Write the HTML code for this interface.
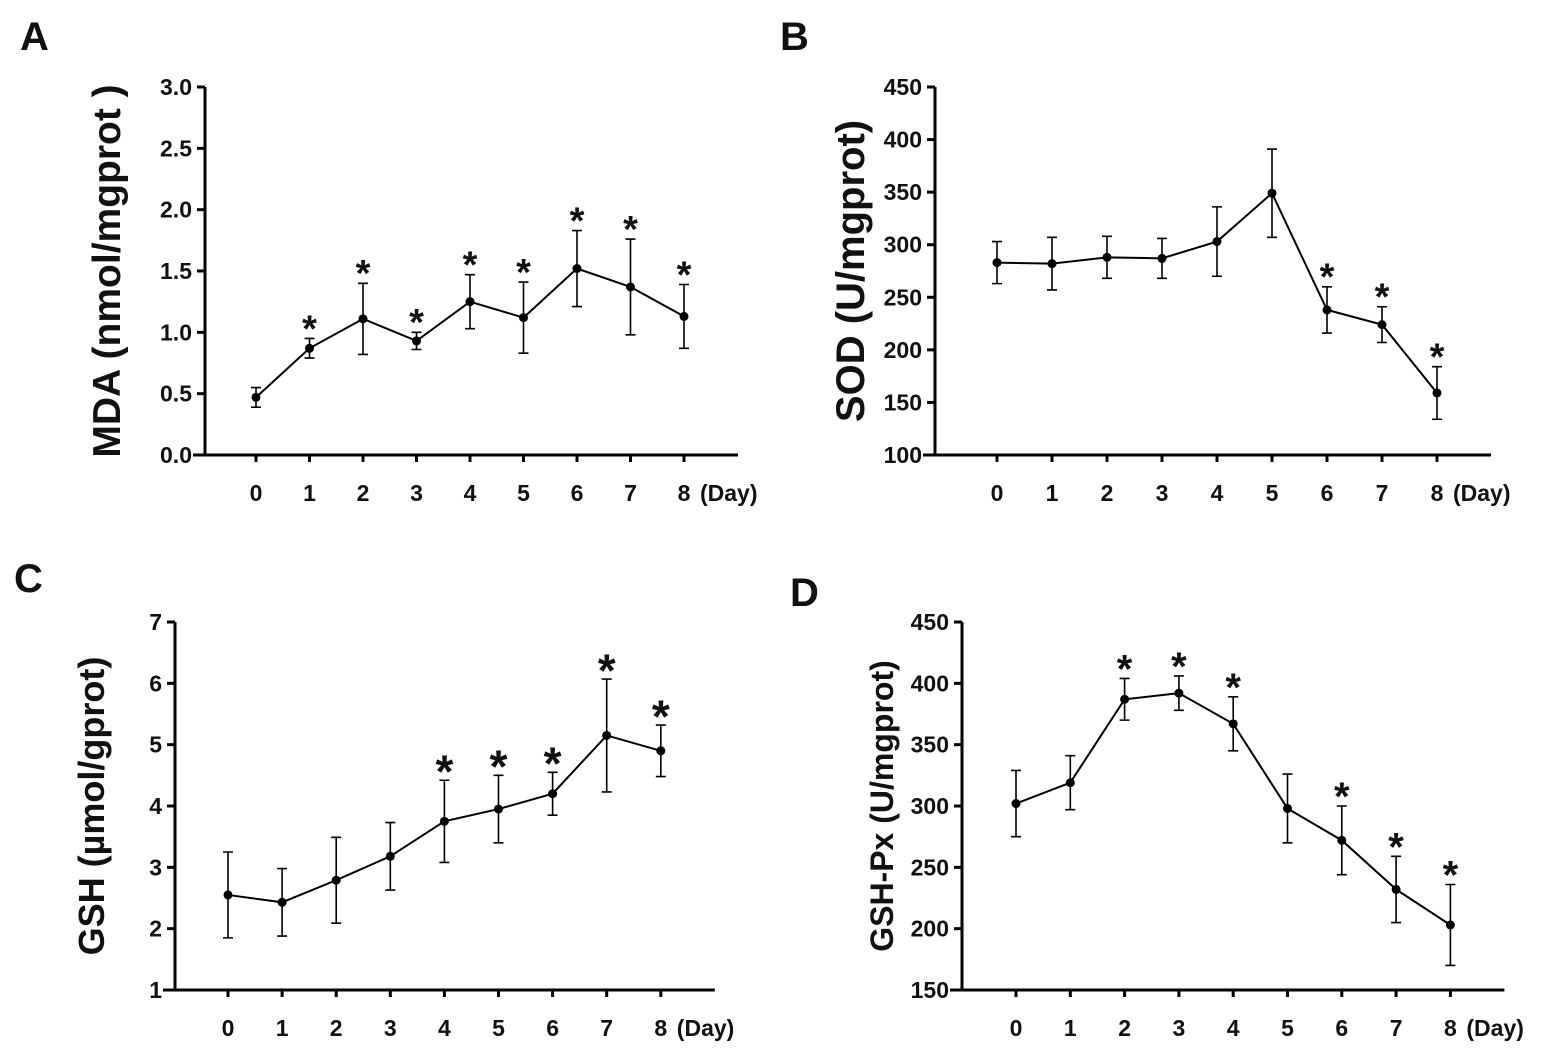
<!DOCTYPE html>
<html><head><meta charset="utf-8"><style>
body{margin:0;background:#fff;}
svg text{font-family:"Liberation Sans",Arial,sans-serif;font-weight:bold;fill:#111;}
</style></head><body>
<svg id="fig" width="1543" height="1054" viewBox="0 0 1543 1054" xmlns="http://www.w3.org/2000/svg"></svg>
<script>
const days=[0,1,2,3,4,5,6,7,8];
const mdaVals=[0.47,0.87,1.11,0.93,1.25,1.12,1.52,1.37,1.13];
const mdaErr=[0.08,0.08,0.29,0.07,0.22,0.29,0.31,0.39,0.26];
const mdaStars=[0,1,1,1,1,1,1,1,1];
const mdaTicks=["0.0","0.5","1.0","1.5","2.0","2.5","3.0"];
const sodVals=[283,282,288,287,303,349,238,224,159];
const sodErr=[20,25,20,19,33,42,22,17,25];
const sodStars=[0,0,0,0,0,0,1,1,1];
const sodTicks=["100","150","200","250","300","350","400","450"];
const gshVals=[2.55,2.43,2.79,3.18,3.75,3.95,4.2,5.15,4.9];
const gshErr=[0.7,0.55,0.7,0.55,0.67,0.55,0.35,0.92,0.42];
const gshStars=[0,0,0,0,1,1,1,1,1];
const gshTicks=["1","2","3","4","5","6","7"];
const gpxVals=[302,319,387,392,367,298,272,232,203];
const gpxErr=[27,22,17,14,22,28,28,27,33];
const gpxStars=[0,0,1,1,1,0,1,1,1];
const gpxTicks=["150","200","250","300","350","400","450"];

const svg=document.getElementById('fig');
const NS='http://www.w3.org/2000/svg';
function mk(tag,attrs,parent){const e=document.createElementNS(NS,tag);for(const k in attrs)e.setAttribute(k,attrs[k]);(parent||svg).appendChild(e);return e;}

function panel(o){
  const g=mk('g',{});
  
  
  const ymin=parseFloat(o.ticks[0]),ymax=parseFloat(o.ticks[o.ticks.length-1]);
  const yS=v=>o.bottom-(v-ymin)/(ymax-ymin)*(o.bottom-o.top);
  const xS=i=>o.x0+i*o.dx;
  const axEnd=xS(days.length-1)+54;
  const ya=mk('line',{x1:o.ax,y1:o.top,x2:o.ax,y2:o.bottom,stroke:'#000','stroke-width':3},g);
  
  const xa=mk('line',{x1:o.ax-12,y1:o.bottom,x2:axEnd,y2:o.bottom,stroke:'#000','stroke-width':3},g);
  
  o.ticks.forEach(t=>{const y=yS(parseFloat(t));
    mk('line',{x1:o.ax-8,y1:y,x2:o.ax,y2:y,stroke:'#000','stroke-width':3},g);
    const tx=mk('text',{x:o.ax-13,y:y+8,'text-anchor':'end','font-size':23},g);tx.textContent=t;
    });
  days.forEach((d,i)=>{const x=xS(i);
    mk('line',{x1:x,y1:o.bottom,x2:x,y2:o.bottom+7,stroke:'#000','stroke-width':3},g);
    const tx=mk('text',{x:x,y:o.bottom+46,'text-anchor':'middle','font-size':23},g);tx.textContent=d;
    });
  const dl=mk('text',{x:xS(8)+16,y:o.bottom+46,'font-size':23},g);dl.textContent='(Day)';
  
  const pts=o.vals.map((v,i)=>xS(i)+','+yS(v)).join(' ');
  const pl=mk('polyline',{points:pts,fill:'none',stroke:'#000','stroke-width':2},g);
  
  o.vals.forEach((v,i)=>{const x=xS(i);const y1=yS(v+o.err[i]),y2=yS(v-o.err[i]);
    const eb=mk('path',{d:`M${x},${y1}V${y2}M${x-5},${y1}H${x+5}M${x-5},${y2}H${x+5}`,stroke:'#000','stroke-width':1.6,fill:'none'},g);
    
    const c=mk('circle',{cx:x,cy:yS(v),r:4.5,fill:'#000'},g);
    
    if(o.stars[i]){const s=mk('text',{x:x,y:y1-18+o.starSize*0.55,'text-anchor':'middle','font-size':o.starSize},g);s.textContent='*';
      }
  });
  const cy=(o.top+o.bottom)/2;
  const t=mk('text',{x:o.tx,y:cy,'text-anchor':'middle','font-size':o.tsize,transform:`rotate(-90 ${o.tx} ${cy})`},g);
  t.textContent=o.title;
  const L=mk('text',{x:o.lx,y:o.ly,'font-size':40},g);L.textContent=o.letter;
  
}
panel({name:'panel-a-mda',letter:'A',lx:20,ly:50,ax:205,top:87,bottom:455,x0:256,dx:53.5,ticks:mdaTicks,vals:mdaVals,err:mdaErr,stars:mdaStars,title:'MDA (nmol/mgprot )',tx:120,tsize:39,starSize:38});
panel({name:'panel-b-sod',letter:'B',lx:780,ly:50,ax:935,top:87,bottom:455,x0:997,dx:55,ticks:sodTicks,vals:sodVals,err:sodErr,stars:sodStars,title:'SOD (U/mgprot)',tx:864,tsize:40,starSize:38});
panel({name:'panel-c-gsh',letter:'C',lx:14,ly:592,ax:175,top:622,bottom:990,x0:228,dx:54.1,ticks:gshTicks,vals:gshVals,err:gshErr,stars:gshStars,title:'GSH (µmol/gprot)',tx:104,tsize:36,starSize:46});
panel({name:'panel-d-gshpx',letter:'D',lx:790,ly:606,ax:962,top:622,bottom:990,x0:1016,dx:54.3,ticks:gpxTicks,vals:gpxVals,err:gpxErr,stars:gpxStars,title:'GSH-Px (U/mgprot)',tx:893,tsize:32,starSize:40});
</script>
</body></html>
